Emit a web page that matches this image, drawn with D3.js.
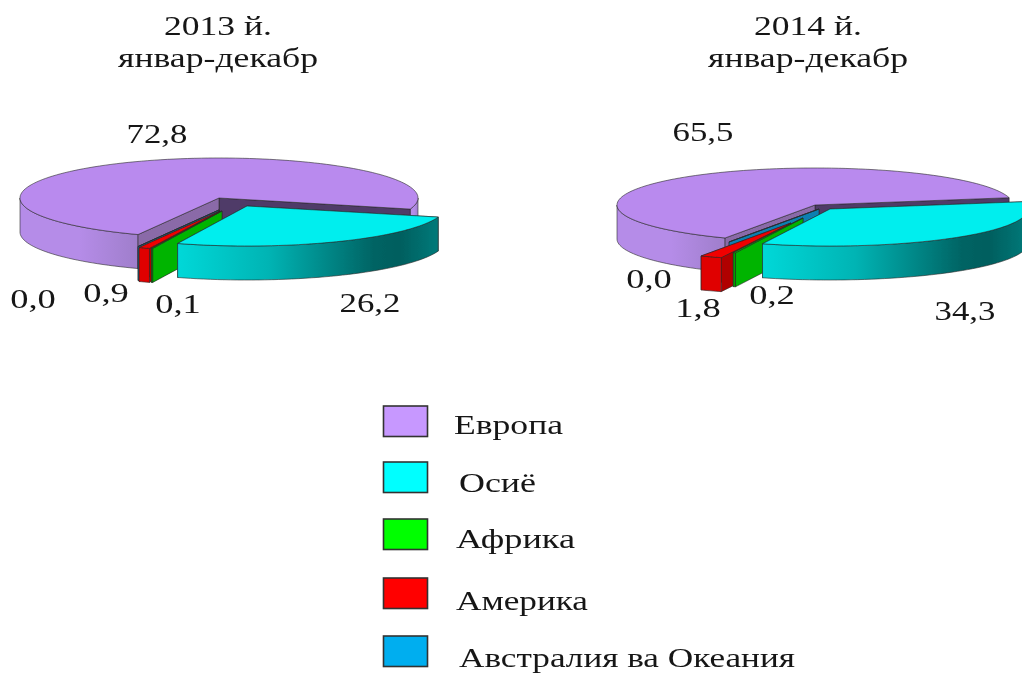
<!DOCTYPE html>
<html><head><meta charset="utf-8">
<script src="https://cdn.jsdelivr.net/npm/d3@7"></script>
<style>html,body{margin:0;padding:0;background:#fff}svg{display:block}
text{font-family:"Liberation Serif",serif;fill:#151515}</style></head>
<body><svg id="c" width="1022" height="673"></svg>
<script>
const categories=["Европа","Осиё","Африка","Америка","Австралия ва Океания"];
const values2013=[72.8,26.2,0.1,0.9,0.0];
const values2014=[65.5,34.3,0.2,1.8,0.0];
const labels2013=["72,8","26,2","0,1","0,9","0,0"];
const labels2014=["65,5","34,3","0,2","1,8","0,0"];
const titleLine1=["2013 й.","2014 й."];
const titleLine2="январ-декабр";

const topColors=["#b98aee","#00eeee","#00c800","#f00000","#0a9ad0"];
const wallColors=[null,"#008888","#00b400","#b00000","#0a7fb0"];
const legendColors=["#c798ff","#00ffff","#00ff00","#ff0000","#00aeef"];

const pies=[
 {values:values2013,labels:labels2013,cx:219,cy:198,rx:199,ry:40,depth:34,start:204,
  offsets:[[0,0],[28,8],[3,13],[1,13],[0,12]],
  labelPos:[[157,143],[370,312],[178,313],[106,302],[33,308]],
  titlePos:[218,35,67],wallLight:"#8a6aa8",wallDark:"#4f3a68"},
 {values:values2014,labels:labels2014,cx:815,cy:205,rx:198,ry:37,depth:34,start:207,
  offsets:[[0,0],[15,4],[-12,13],[-24,18],[4,4]],
  labelPos:[[703,141],[965,320],[772,304],[698,317],[649,288]],
  titlePos:[808,35,67],wallLight:"#8a6aa8",wallDark:"#4f3a68"}
];
const rad=d=>d*Math.PI/180;
const svg=d3.select("#c");
const defs=svg.append("defs");
defs.append("filter").attr("id","soft").attr("filterUnits","userSpaceOnUse")
  .attr("x",0).attr("y",0).attr("width",1022).attr("height",673)
  .append("feGaussianBlur").attr("stdDeviation",0.7);
const root=svg.append("g").attr("filter","url(#soft)");
function grad(id,stops){
  const g=defs.append("linearGradient").attr("id",id);
  stops.forEach(s=>g.append("stop").attr("offset",s[0]).attr("stop-color",s[1]));
}
grad("rimEu",[[0,"#b58ce8"],[0.5,"#b58ce8"],[1,"#9f7ecb"]]);
grad("rimAs",[[0,"#00d8d8"],[0.35,"#00b4b4"],[0.75,"#006464"],[0.85,"#005e5e"],[1,"#007a7a"]]);

pies.forEach(p=>{
  const slices=d3.pie().sort(null).startAngle(rad(p.start)).endAngle(rad(p.start+360))(p.values);
  const g=root.append("g");
  const pt=(i,a,dz=0)=>{const[ox,oy]=p.offsets[i];
    return [p.cx+ox+p.rx*Math.sin(a),p.cy+oy-p.ry*Math.cos(a)+dz];};
  const apex=(i,dz=0)=>[p.cx+p.offsets[i][0],p.cy+p.offsets[i][1]+dz];
  const line=d3.line();
  function arcPts(i,a0,a1,dz=0){
    const n=Math.max(2,Math.ceil(Math.abs(a1-a0)/rad(2)));
    return d3.range(n+1).map(k=>pt(i,a0+(a1-a0)*k/n,dz));
  }
  const paint=(d,f)=>g.append("path").attr("d",d).attr("fill",f)
     .attr("stroke","#2a2a2a").attr("stroke-width",0.6).attr("stroke-linejoin","round");
  function wall(i,a,f){
    paint(line([apex(i),pt(i,a),pt(i,a,p.depth),apex(i,p.depth)])+"Z",f);
  }
  function rim(i,a0,a1,f){
    [[rad(90),rad(270)],[rad(450),rad(630)]].forEach(([lo,hi])=>{
      const s=Math.max(a0,lo),e=Math.min(a1,hi);
      if(e>s){
        const top=arcPts(i,s,e),bot=arcPts(i,s,e,p.depth).reverse();
        paint(line(top.concat(bot))+"Z",f);
      }
    });
  }
  function top(i,a0,a1,f){
    paint(line([apex(i)].concat(arcPts(i,a0,a1)))+"Z",f);
  }
  [0,4,3,2,1].forEach(i=>{
    const s=slices[i];
    if(i===0){
      rim(i,s.startAngle,s.endAngle,"url(#rimEu)");
      wall(i,s.endAngle,p.wallDark);
      wall(i,s.startAngle,p.wallLight);
      top(i,s.startAngle,s.endAngle,topColors[i]);
    }else{
      wall(i,s.endAngle,wallColors[i]);
      wall(i,s.startAngle,wallColors[i]);
      rim(i,s.startAngle,s.endAngle,i===1?"url(#rimAs)":(i===3?"#e00000":"#00a000"));
      top(i,s.startAngle,s.endAngle,topColors[i]);
    }
  });
  p.labels.forEach((t,i)=>{
    const[x,y]=p.labelPos[i];
    root.append("text").attr("x",x).attr("y",y).attr("text-anchor","middle")
      .attr("font-size",27).attr("textLength",t.length*15.2).attr("lengthAdjust","spacingAndGlyphs").text(t);
  });
});
titleLine1.forEach((t,i)=>{
  const[x,y1,y2]=pies[i].titlePos;
  root.append("text").attr("x",x).attr("y",y1).attr("text-anchor","middle").attr("font-size",27)
    .attr("textLength",108).attr("lengthAdjust","spacingAndGlyphs").text(t);
  root.append("text").attr("x",x).attr("y",y2).attr("text-anchor","middle").attr("font-size",27)
    .attr("textLength",200).attr("lengthAdjust","spacingAndGlyphs").text(titleLine2);
});
const legendRectY=[406,462,519,578,636];
const legendTextY=[434,492,548,610,667];
const legendTextX=[454,459,456,456,459];
const legendTextW=[109,77,119,132,336];
categories.forEach((c,i)=>{
  root.append("rect").attr("x",383.5).attr("y",legendRectY[i]).attr("width",44).attr("height",30.5)
    .attr("fill",legendColors[i]).attr("stroke","#333").attr("stroke-width",1.6);
  root.append("text").attr("x",legendTextX[i]).attr("y",legendTextY[i]).attr("font-size",28)
    .attr("textLength",legendTextW[i]).attr("lengthAdjust","spacingAndGlyphs").text(c);
});
</script></body></html>
